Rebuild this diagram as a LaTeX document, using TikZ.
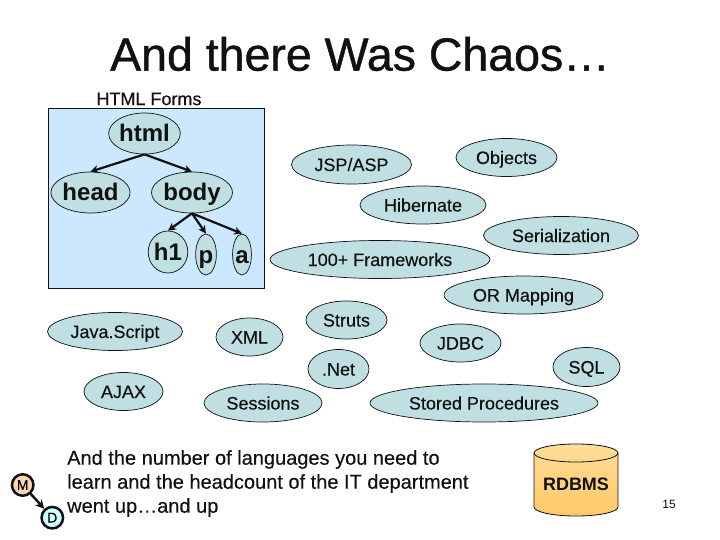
\documentclass[tikz,border=0pt]{standalone}
\usepackage{fontspec}
\setmainfont{Liberation Sans}
\newfontfamily\heavyfont[FakeBold=0.25]{Liberation Sans}
\newfontfamily\titlefont[FakeBold=0.9]{Liberation Sans}
\usetikzlibrary{shapes.geometric,arrows.meta}
\definecolor{elfill}{HTML}{BFDFE3}
\definecolor{boxfill}{HTML}{CCE8FF}
\definecolor{inkc}{HTML}{111111}
\definecolor{peach}{HTML}{FFD5B0}
\definecolor{mint}{HTML}{CCFFFF}
\definecolor{cyltop}{HTML}{FFDD99}
\definecolor{cylbot}{HTML}{FFC966}
\tikzset{
  el/.style={ellipse,draw=inkc,line width=0.7pt,fill=elfill,inner sep=0pt,text=inkc,text height=13pt,text depth=0pt,font=\heavyfont\fontsize{18}{20}\selectfont},
  big/.style={el,text height=17pt,font=\bfseries\fontsize{24}{26}\selectfont},
  tree/.style={-{Stealth[length=8pt,width=8pt]},line width=2.2pt,inkc},
  plain/.style={inner sep=0pt,text=inkc},
  ring/.style={circle,draw=inkc,line width=2.5pt,fill=white,inner sep=0pt,minimum size=21.5pt,font=\heavyfont\fontsize{14}{16}\selectfont}
}
\begin{document}
\begin{tikzpicture}[x=1pt,y=-1pt]
\useasboundingbox (0,0) rectangle (720,540);
\node[plain,font=\titlefont\fontsize{46.5}{50}\selectfont] (title) at (360,54) {And there Was Chaos…};
\node[plain,font=\heavyfont\fontsize{18}{20}\selectfont] (forms) at (149,99) {HTML Forms};
\node[draw=inkc,line width=0.7pt,fill=boxfill,minimum width=216pt,minimum height=180pt,inner sep=0pt] (box) at (156,198) {};
\node[big,minimum width=59pt,minimum height=41pt] (html) at (144.5,133.5) {html};
\node[big,minimum width=66pt,minimum height=41pt] (head) at (90.5,192.5) {head};
\node[big,minimum width=67pt,minimum height=41pt] (body) at (192,192.5) {body};
\node[big,minimum width=33pt,minimum height=42pt] (h1) at (168,252) {h1};
\node[big,minimum width=18pt,minimum height=41pt] (p) at (206,254.5) {p};
\node[big,minimum width=16pt,minimum height=41pt] (a) at (242,254.5) {a};
\draw[tree] (html.south) -- (head.north);
\draw[tree] (html.south) -- (body.north);
\draw[tree] (body.south) -- (h1.north);
\draw[tree] (body.south) -- (p.north);
\draw[tree] (body.south) -- (a.north);
\node[el,minimum width=120pt,minimum height=39pt] (jsp) at (351.5,164.5) {JSP/ASP};
\node[el,minimum width=101pt,minimum height=38pt] (obj) at (506.5,157.5) {Objects};
\node[el,minimum width=126pt,minimum height=38pt] (hib) at (423,205) {Hibernate};
\node[el,minimum width=155pt,minimum height=38pt] (ser) at (561,235.5) {Serialization};
\node[el,minimum width=220pt,minimum height=38pt] (fw) at (380,259.5) {100+ Frameworks};
\node[el,minimum width=159pt,minimum height=38pt] (orm) at (523.5,295) {OR Mapping};
\node[el,minimum width=135pt,minimum height=38pt] (js) at (115,331.5) {Java.Script};
\node[el,minimum width=67pt,minimum height=38pt] (xml) at (249.5,337) {XML};
\node[el,minimum width=81pt,minimum height=38pt] (struts) at (346.5,320) {Struts};
\node[el,minimum width=81pt,minimum height=38pt] (jdbc) at (460.5,343) {JDBC};
\node[el,minimum width=61pt,minimum height=39pt] (net) at (338.5,369) {.Net};
\node[el,minimum width=67pt,minimum height=39pt] (sql) at (586.5,367) {SQL};
\node[el,minimum width=79pt,minimum height=38pt] (ajax) at (123.5,391.5) {AJAX};
\node[el,minimum width=118pt,minimum height=38pt] (sess) at (263,403) {Sessions};
\node[el,minimum width=228pt,minimum height=38pt] (sp) at (484,403) {Stored Procedures};
\node[plain,align=left,anchor=north west,font=\heavyfont\fontsize{20}{24}\selectfont] (bodytext) at (67,450) {And the number of languages you need to\\learn and the headcount of the IT department\\went up…and up};
\node[ring,fill=peach] (m) at (22.7,485) {M};
\node[ring,fill=mint] (d) at (52.3,517.7) {D};
\draw[-{Stealth[length=9pt,width=9pt]},line width=2.5pt,inkc] (m) -- (d);
\draw[inkc,line width=0.8pt,top color=cyltop,bottom color=cylbot] (534,453) -- (534,507) arc[start angle=180,end angle=360,x radius=42,y radius=-9] -- (618,453) arc[start angle=0,end angle=180,x radius=42,y radius=-9] -- cycle;
\draw[inkc,line width=0.8pt] (534,453) arc[start angle=180,end angle=360,x radius=42,y radius=-9];
\node[plain,font=\bfseries\fontsize{18}{20}\selectfont] (rdbms) at (576,484) {RDBMS};
\node[plain,font=\fontsize{12}{14}\selectfont] (num) at (669,504) {15};
\end{tikzpicture}
\end{document}
